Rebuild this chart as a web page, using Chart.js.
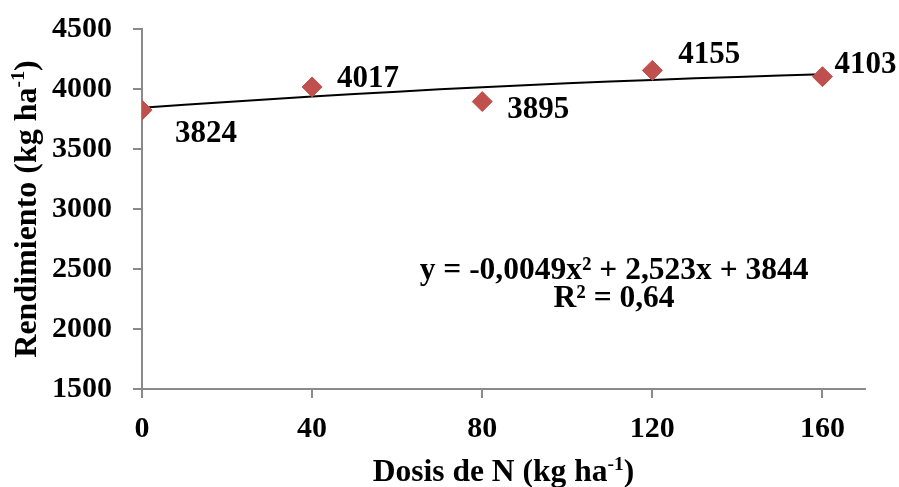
<!DOCTYPE html>
<html>
<head>
<meta charset="utf-8">
<script src="https://cdn.jsdelivr.net/npm/chart.js@4"></script>
<style>
html,body{margin:0;padding:0;background:#fff;}
#wrap{width:899px;height:487px;position:relative;}
</style>
</head>
<body>
<div id="wrap"><canvas id="c"></canvas></div>
<script>
// Data
const doses = [0, 40, 80, 120, 160];
const yields = [3824, 4017, 3895, 4155, 4103];
const trendX = [0, 20, 40, 60, 80, 100, 120, 140, 160];
const trendY = [3844, 3892, 3937, 3978, 4015, 4047, 4076, 4101, 4122];
const xTicks = [0, 40, 80, 120, 160];
const yTicks = [1500, 2000, 2500, 3000, 3500, 4000, 4500];
const equationLines = ['y = -0,0049x² + 2,523x + 3844', 'R² = 0,64'];

// Label placement (pixel offsets from each point)
const labelOffsets = [[64, 24], [56, -8], [56, 8], [57, -15], [43, -12]];
const eqAnchor = {x: 111, y1: 2483, y2: 2250};

const FONT = '"Liberation Serif", "Times New Roman", serif';
const AXIS = '#8a8a8a';

function drawRich(ctx, parts, fs) {
  let total = 0;
  parts.forEach(p => {
    ctx.font = 'bold ' + (p.sup ? fs * 0.62 : fs) + 'px ' + FONT;
    p.w = ctx.measureText(p.t).width;
    total += p.w;
  });
  let x = -total / 2;
  parts.forEach(p => {
    const size = p.sup ? fs * 0.62 : fs;
    ctx.font = 'bold ' + size + 'px ' + FONT;
    ctx.textAlign = 'left';
    ctx.textBaseline = 'alphabetic';
    ctx.fillText(p.t, x, p.sup ? fs * 0.33 - fs * 0.36 : fs * 0.33);
    x += p.w;
  });
}

const annot = {
  id: 'annot',
  afterDatasetsDraw(chart) {
    const ctx = chart.ctx;
    const xs = chart.scales.x, ys = chart.scales.y;
    ctx.save();
    ctx.fillStyle = '#000';
    const meta = chart.getDatasetMeta(0);
    ctx.font = 'bold 31px ' + FONT;
    ctx.textAlign = 'center';
    ctx.textBaseline = 'middle';
    meta.data.forEach((pt, i) => {
      ctx.fillText(String(yields[i]), pt.x + labelOffsets[i][0], pt.y + labelOffsets[i][1]);
    });
    ctx.font = 'bold 31.5px ' + FONT;
    ctx.fillText(equationLines[0], xs.getPixelForValue(eqAnchor.x), ys.getPixelForValue(eqAnchor.y1));
    ctx.fillText(equationLines[1], xs.getPixelForValue(eqAnchor.x), ys.getPixelForValue(eqAnchor.y2));
    const ca = chart.chartArea;
    ctx.save();
    ctx.translate((ca.left + ca.right) / 2, 471);
    drawRich(ctx, [{t: 'Dosis de N (kg ha'}, {t: '-1', sup: true}, {t: ')'}], 31.5);
    ctx.restore();
    ctx.save();
    ctx.translate(25, (ca.top + ca.bottom) / 2);
    ctx.rotate(-Math.PI / 2);
    drawRich(ctx, [{t: 'Rendimiento (kg ha'}, {t: '-1', sup: true}, {t: ')'}], 32);
    ctx.restore();
    ctx.restore();
  }
};

new Chart(document.getElementById('c'), {
  type: 'scatter',
  data: {
    datasets: [
      {
        data: doses.map((d, i) => ({x: d, y: yields[i]})),
        backgroundColor: '#C0504D',
        borderColor: '#C0504D',
        pointStyle: 'rectRot',
        pointRadius: 10,
        pointHoverRadius: 10,
        showLine: false
      },
      {
        type: 'line',
        data: trendX.map((d, i) => ({x: d, y: trendY[i]})),
        borderColor: '#000',
        borderWidth: 2,
        pointRadius: 0,
        tension: 0.4,
        fill: false
      }
    ]
  },
  options: {
    responsive: true,
    maintainAspectRatio: false,
    animation: false,
    events: [],
    layout: {padding: {top: 29, right: 34, bottom: 0, left: 0}},
    plugins: {legend: {display: false}, tooltip: {enabled: false}},
    scales: {
      x: {
        type: 'linear',
        min: 0,
        max: 170,
        afterFit: s => { s.height = 98; s.paddingLeft = 0; s.paddingRight = 0; },
        afterBuildTicks: s => { s.ticks = xTicks.map(v => ({value: v})); },
        grid: {drawOnChartArea: false, drawTicks: true, tickLength: 9, color: AXIS, lineWidth: 2},
        border: {display: true, color: AXIS, width: 2},
        ticks: {color: '#000', font: {family: FONT, size: 30, weight: 'bold'}, padding: 13, maxRotation: 0,
                callback: v => String(v)}
      },
      y: {
        min: 1500,
        max: 4500,
        afterFit: s => { s.width = 142; s.paddingTop = 0; s.paddingBottom = 0; },
        afterBuildTicks: s => { s.ticks = yTicks.map(v => ({value: v})); },
        grid: {drawOnChartArea: false, drawTicks: true, tickLength: 9, color: AXIS, lineWidth: 2},
        border: {display: true, color: AXIS, width: 2},
        ticks: {color: '#000', font: {family: FONT, size: 30, weight: 'bold'}, padding: 21,
                callback: v => String(v)}
      }
    }
  },
  plugins: [annot]
});
</script>
</body>
</html>
